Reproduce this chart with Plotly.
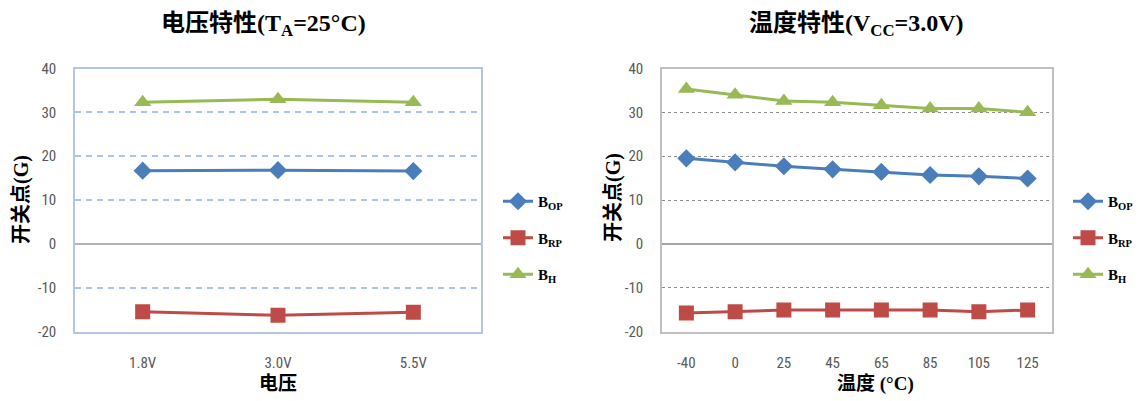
import plotly.graph_objects as go

# ---- data ----
volt_cats = ["1.8V", "3.0V", "5.5V"]
volt_bop = [16.7, 16.8, 16.6]
volt_brp = [-15.5, -16.3, -15.6]
volt_bh = [32.3, 33.0, 32.3]

temp_cats = ["-40", "0", "25", "45", "65", "85", "105", "125"]
temp_bop = [19.5, 18.6, 17.7, 17.0, 16.4, 15.7, 15.4, 14.9]
temp_brp = [-15.8, -15.5, -15.1, -15.1, -15.1, -15.1, -15.5, -15.1]
temp_bh = [35.3, 34.0, 32.6, 32.3, 31.6, 30.9, 30.9, 30.0]

y_tick_vals = [-20, -10, 0, 10, 20, 30, 40]
y_tick_text = ["-20", "-10", "0", "10", "20", "30", "40"]

series_names = ["B<sub>OP</sub>", "B<sub>RP</sub>", "B<sub>H</sub>"]
colors = ["#4a7ebb", "#be4b48", "#98b954"]
symbols = ["diamond", "square", "triangle-up"]
msizes = [14, 15, 15]

# page body has an 8px default margin; compensate
OFF = 8
W, H = 1145 - OFF, 401 - OFF
def px(x):
    return (x - OFF) / W
def py(y):
    return 1 - (y - OFF) / H

fig = go.Figure()

tick_font = dict(family="Liberation Sans Narrow, Roboto Condensed, Liberation Sans, sans-serif", size=15, color="#595959")
serif = "Liberation Serif, Noto Sans CJK SC, serif"

for i, (vals, name) in enumerate(zip([volt_bop, volt_brp, volt_bh], series_names)):
    fig.add_trace(go.Scatter(
        x=volt_cats, y=vals, mode="lines+markers", name="<b>" + name + "</b>",
        line=dict(color=colors[i], width=3),
        marker=dict(symbol=symbols[i], size=msizes[i], color=colors[i]),
        xaxis="x", yaxis="y", legend="legend", legendgroup="a%d" % i,
    ))
for i, (vals, name) in enumerate(zip([temp_bop, temp_brp, temp_bh], series_names)):
    fig.add_trace(go.Scatter(
        x=temp_cats, y=vals, mode="lines+markers", name="<b>" + name + "</b>",
        line=dict(color=colors[i], width=3),
        marker=dict(symbol=symbols[i], size=msizes[i], color=colors[i]),
        xaxis="x2", yaxis="y2", legend="legend2", legendgroup="b%d" % i,
    ))

ydom = [py(331.5), py(68.5)]
fig.update_layout(
    width=W, height=H,
    margin=dict(l=0, r=0, t=0, b=0, autoexpand=False),
    paper_bgcolor="white", plot_bgcolor="white",
    showlegend=True,
    xaxis=dict(domain=[px(75), px(481)], type="category", range=[-0.5, 2.5],
               showline=True, mirror=True, linecolor="#b4c6e4", linewidth=1.5,
               showgrid=False, ticks="", tickfont=tick_font, ticklabelstandoff=17,
               anchor="y", automargin=False),
    yaxis=dict(domain=ydom, range=[-20, 40], tickmode="array",
               tickvals=y_tick_vals, ticktext=y_tick_text,
               showline=True, mirror=True, linecolor="#b4c6e4", linewidth=1.5,
               showgrid=True, gridcolor="#a8c4f0", griddash="6px,5px", gridwidth=1.5,
               zeroline=True, zerolinecolor="#b4b4b4", zerolinewidth=1.5,
               ticks="", tickfont=tick_font, ticklabelstandoff=14, anchor="x",
               automargin=False),
    xaxis2=dict(domain=[px(662), px(1052)], type="category", range=[-0.5, 7.5],
                showline=True, mirror=True, linecolor="#c0c0c0", linewidth=1.5,
                showgrid=False, ticks="", tickfont=tick_font, ticklabelstandoff=17,
                anchor="y2", automargin=False),
    yaxis2=dict(domain=ydom, range=[-20, 40], tickmode="array",
                tickvals=y_tick_vals, ticktext=y_tick_text,
                showline=True, mirror=True, linecolor="#c0c0c0", linewidth=1.5,
                showgrid=True, gridcolor="#8c8c8c", griddash="dot", gridwidth=1,
                zeroline=True, zerolinecolor="#a6a6a6", zerolinewidth=1.5,
                ticks="", tickfont=tick_font, ticklabelstandoff=14, anchor="x2",
                automargin=False),
    legend=dict(x=px(498), y=py(185), xanchor="left", yanchor="top",
                font=dict(family=serif, size=15, color="black"),
                tracegroupgap=14, bgcolor="rgba(0,0,0,0)"),
    legend2=dict(x=px(1068), y=py(185), xanchor="left", yanchor="top",
                 font=dict(family=serif, size=15, color="black"),
                 tracegroupgap=14, bgcolor="rgba(0,0,0,0)"),
)

ann = []
# titles
ann.append(dict(text="<b>电压特性(T<sub>A</sub>=25°C)</b>", x=px(263), y=py(25),
                font=dict(family=serif, size=24, color="black")))
ann.append(dict(text="<b>温度特性(V<sub>CC</sub>=3.0V)</b>", x=px(856), y=py(25),
                font=dict(family=serif, size=24, color="black")))
# axis titles
ann.append(dict(text="<b>电压</b>", x=px(278), y=py(383),
                font=dict(family=serif, size=19, color="black")))
ann.append(dict(text="<b>温度 (°C)</b>", x=px(875), y=py(383),
                font=dict(family=serif, size=19, color="black")))
ann.append(dict(text="<b>开关点(G)</b>", x=px(22), y=py(200), textangle=-90,
                font=dict(family=serif, size=20, color="black")))
ann.append(dict(text="<b>开关点(G)</b>", x=px(613), y=py(198), textangle=-90,
                font=dict(family=serif, size=20, color="black")))
for a in ann:
    a.update(xref="paper", yref="paper", showarrow=False, xanchor="center", yanchor="middle")
fig.update_layout(annotations=ann)

fig.write_html("out.html")
